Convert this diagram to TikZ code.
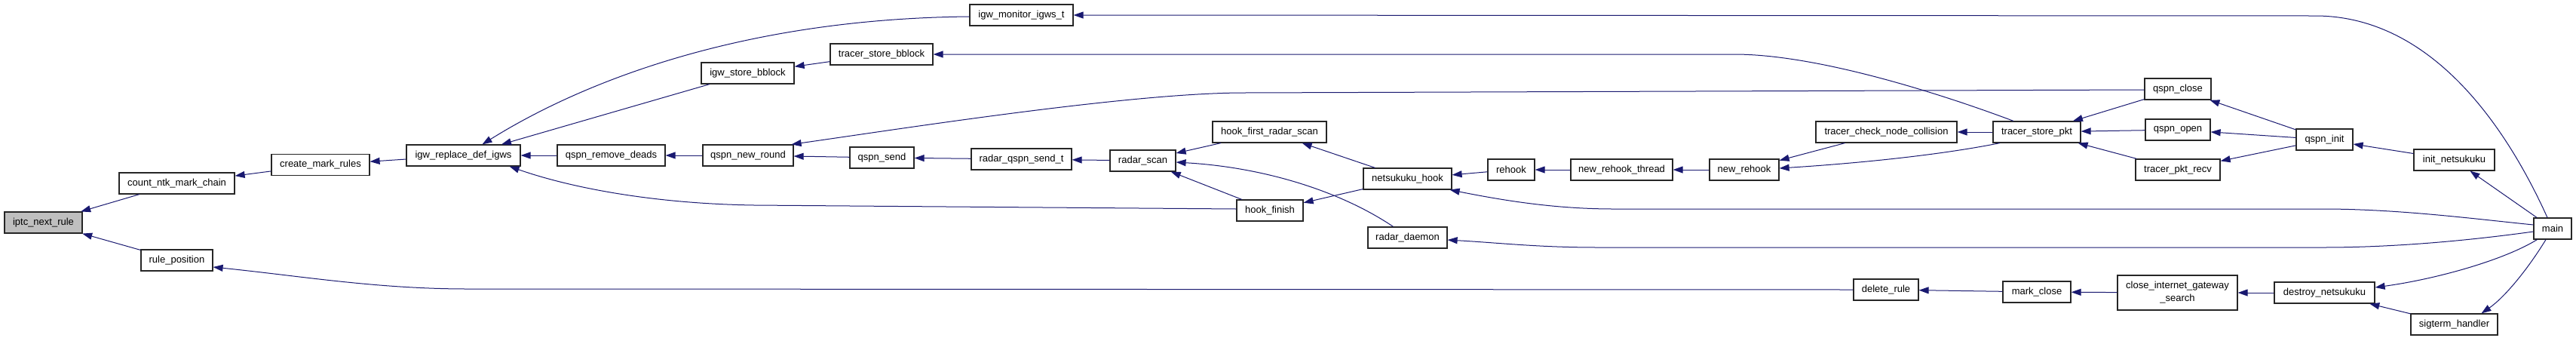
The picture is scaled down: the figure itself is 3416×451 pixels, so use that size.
\documentclass[tikz,border=0pt]{standalone}
\usepackage{fontspec}
\setmainfont{Liberation Sans}
\usetikzlibrary{arrows.meta,calc}
\definecolor{edgec}{HTML}{191970}
\definecolor{hilite}{HTML}{BFBFBF}
\tikzset{
  fn/.style={draw=black!85, line width=1.2pt, fill=white, rectangle, inner sep=0pt,
    minimum height=28pt, align=center, font=\fontsize{13}{17}\selectfont},
  ar/.style={draw=edgec, line width=1pt, -{Triangle[length=13pt,width=9pt,fill=edgec]}}
}
\begin{document}
\begin{tikzpicture}[x=1pt,y=-1pt]
\useasboundingbox (0,0) rectangle (3416,451);
% nodes
\node[fn, fill=hilite, minimum width=103pt] (iptc) at (57.5,295) {iptc\_next\_rule};
\node[fn, minimum width=153pt] (count) at (234.5,243) {count\_ntk\_mark\_chain};
\node[fn, minimum width=130pt] (create) at (425,218.5) {create\_mark\_rules};
\node[fn, minimum width=95pt] (rulepos) at (234.5,345) {rule\_position};
\node[fn, minimum width=151pt] (igwrep) at (614.5,206) {igw\_replace\_def\_igws};
\node[fn, minimum width=143pt] (qrem) at (810.5,206) {qspn\_remove\_deads};
\node[fn, minimum width=120pt] (qnew) at (992,206) {qspn\_new\_round};
\node[fn, minimum width=123pt] (igwstore) at (991.5,97) {igw\_store\_bblock};
\node[fn, minimum width=137pt] (igwmon) at (1354.5,20) {igw\_monitor\_igws\_t};
\node[fn, minimum width=136pt] (tsbb) at (1169,72) {tracer\_store\_bblock};
\node[fn, minimum width=85pt] (qsend) at (1169.5,209) {qspn\_send};
\node[fn, minimum width=133pt] (rqst) at (1354.5,211) {radar\_qspn\_send\_t};
\node[fn, minimum width=87pt] (rscan) at (1515.5,213) {radar\_scan};
\node[fn, minimum width=151pt] (hfrs) at (1683.5,175) {hook\_first\_radar\_scan};
\node[fn, minimum width=88pt] (hookfin) at (1684,279) {hook\_finish};
\node[fn, minimum width=117pt] (nhook) at (1866.5,237) {netsukuku\_hook};
\node[fn, minimum width=105pt] (rdaemon) at (1866.5,315) {radar\_daemon};
\node[fn, minimum width=62pt] (rehook) at (2004,225) {rehook};
\node[fn, minimum width=135pt] (nrt) at (2150.5,225) {new\_rehook\_thread};
\node[fn, minimum width=92pt] (nrehook) at (2313,225) {new\_rehook};
\node[fn, minimum width=187pt] (tcnc) at (2501.5,175) {tracer\_check\_node\_collision};
\node[fn, minimum width=116pt] (tspkt) at (2701,175) {tracer\_store\_pkt};
\node[fn, minimum width=88pt] (qclose) at (2888,118) {qspn\_close};
\node[fn, minimum width=86pt] (qopen) at (2888,172) {qspn\_open};
\node[fn, minimum width=112pt] (tpr) at (2888,225) {tracer\_pkt\_recv};
\node[fn, minimum width=86pt] (delrule) at (2501,384) {delete\_rule};
\node[fn, minimum width=90pt] (mclose) at (2701,387) {mark\_close};
\node[fn, minimum width=159pt, minimum height=46pt] (cigs) at (2887.5,388) {close\_internet\_gateway\\\_search};
\node[fn, minimum width=75pt] (qinit) at (3082.5,185) {qspn\_init};
\node[fn, minimum width=107pt] (initn) at (3254.5,212) {init\_netsukuku};
\node[fn, minimum width=50pt] (main) at (3385,303) {main};
\node[fn, minimum width=133pt] (destroy) at (3082.5,388) {destroy\_netsukuku};
\node[fn, minimum width=115pt] (sigterm) at (3254.5,430) {sigterm\_handler};
% edges (caller -> callee)
\draw[ar] (count) -- (iptc);
\draw[ar] (rulepos) -- (iptc);
\draw[ar] (create) -- (count);
\draw[ar] (igwrep) -- (create);
\draw[ar] (delrule.west) -- (620,383) .. controls (500,383) and (400,366) .. ($(rulepos.east)+(0,9)$);
\draw[ar] ($(igwmon.west)+(0,2)$) .. controls (980,25) and (770,110) .. ($(igwrep.north)+(25,0)$);
\draw[ar] (igwstore) -- (igwrep);
\draw[ar] (qrem) -- (igwrep);
\draw[ar] ($(hookfin.west)+(0,-2)$) -- (1000,272) .. controls (870,270) and (760,250) .. ($(igwrep.south east)+(-15,0)$);
\draw[ar] (qnew) -- (qrem);
\draw[ar] (tsbb) -- (igwstore);
\draw[ar] ($(qclose.west)+(0,1)$) -- (1650,123) .. controls (1500,123) and (1200,170) .. ($(qnew.north east)+(-3,0)$);
\draw[ar] (qsend) -- (qnew);
\draw[ar] ($(main.north)+(-7,0)$) .. controls (3320,160) and (3220,21) .. (3070,21) -- (igwmon.east);
\draw[ar] ($(tspkt.north)+(-31,0)$) .. controls (2600,134) and (2420,72) .. (2300,72) -- (tsbb.east);
\draw[ar] (rqst) -- (qsend);
\draw[ar] (rscan) -- (rqst);
\draw[ar] (hfrs) -- (rscan);
\draw[ar] ($(rdaemon.north)+(-19,0)$) .. controls (1780,255) and (1680,222) .. ($(rscan.east)+(0,2)$);
\draw[ar] (hookfin) -- (rscan);
\draw[ar] (nhook) -- (hfrs);
\draw[ar] (nhook) -- (hookfin);
\draw[ar] (rehook) -- (nhook);
\draw[ar] ($(main.west)+(0,-5)$) .. controls (3280,290) and (3180,277) .. (3080,277) -- (2140,277) .. controls (2060,277) and (1990,265) .. ($(nhook.south east)+(-3,0)$);
\draw[ar] ($(main.west)+(0,4)$) .. controls (3280,318) and (3180,328) .. (3080,328) -- (2120,328) .. controls (2040,328) and (1990,322) .. ($(rdaemon.east)+(0,3)$);
\draw[ar] (nrt) -- (rehook);
\draw[ar] (nrehook) -- (nrt);
\draw[ar] (tcnc) -- (nrehook);
\draw[ar] ($(tspkt.south)+(-49,0)$) .. controls (2560,208) and (2440,218) .. ($(nrehook.east)+(0,-2)$);
\draw[ar] (tspkt) -- (tcnc);
\draw[ar] (qclose) -- (tspkt);
\draw[ar] (qopen) -- (tspkt);
\draw[ar] (tpr) -- (tspkt);
\draw[ar] (qinit) -- (qclose);
\draw[ar] (qinit) -- (qopen);
\draw[ar] (qinit) -- (tpr);
\draw[ar] (initn) -- (qinit);
\draw[ar] (main) -- (initn);
\draw[ar] (mclose) -- (delrule);
\draw[ar] (cigs) -- (mclose);
\draw[ar] (destroy) -- (cigs);
\draw[ar] ($(main.south west)+(5,0)$) .. controls (3320,345) and (3230,370) .. ($(destroy.east)+(0,-7)$);
\draw[ar] (sigterm) -- (destroy);
\draw[ar] ($(main.south)+(-9,0)$) .. controls (3350,360) and (3320,395) .. ($(sigterm.north)+(36,0)$);
\end{tikzpicture}
\end{document}
